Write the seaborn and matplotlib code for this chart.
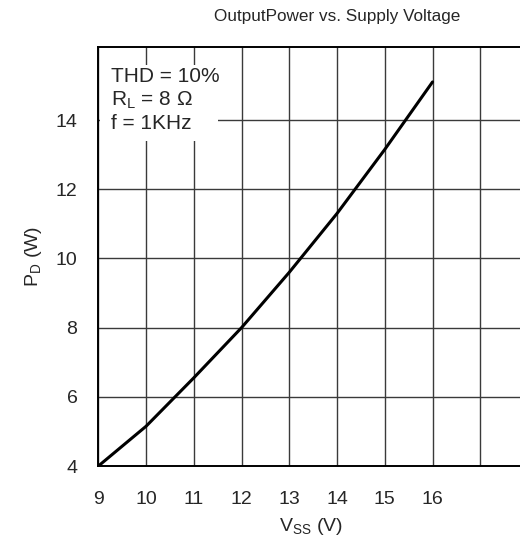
import matplotlib
matplotlib.use("Agg")
import matplotlib.pyplot as plt
from matplotlib.patches import Rectangle
import pandas as pd
import seaborn as sns

# values
vss = [9, 10, 11, 12, 13, 14, 15, 16]
power = [4.0, 5.15, 6.55, 8.0, 9.6, 11.3, 13.15, 15.1]
x_ticks = [9, 10, 11, 12, 13, 14, 15, 16]
y_ticks = [4, 6, 8, 10, 12, 14]
grid_x = [9, 10, 11, 12, 13, 14, 15, 16, 17, 18]
conditions = ["THD = 10%", "R$_\\mathregular{L}$ = 8 Ω", "f = 1KHz"]

sns.set_style("white")
plt.rcParams['font.family'] = ['Liberation Sans', 'DejaVu Sans']
plt.rcParams['mathtext.fontset'] = 'custom'
plt.rcParams['mathtext.rm'] = 'Liberation Sans'

df = pd.DataFrame({"vss": vss, "power": power})

fig = plt.figure(figsize=(5.2, 5.49), dpi=100)
ax = fig.add_axes([0.189, 0.151, 0.82, 0.764])

for gx in grid_x:
    ax.axvline(gx, color="#3a3a3a", lw=1.0, zorder=1)
for gy in y_ticks[1:]:
    ax.axhline(gy, color="#3a3a3a", lw=1.0, zorder=1)

sns.lineplot(data=df, x="vss", y="power", color="black", lw=2.2, ax=ax, zorder=3)

ax.set_xlim(9, 17.93)
ax.set_ylim(4, 16.12)
ax.set_xticks(x_ticks)
ax.set_yticks(y_ticks)
ax.tick_params(axis="both", length=0, labelsize=14)
ax.tick_params(axis="x", pad=18)
ax.tick_params(axis="y", pad=15)
for side in ["left", "bottom", "top"]:
    ax.spines[side].set_color("black")
    ax.spines[side].set_linewidth(1.4)
ax.spines["right"].set_visible(False)

ax.set_xlabel("V$_\\mathregular{SS}$ (V)", fontsize=14, labelpad=6)
ax.set_ylabel("P$_\\mathregular{D}$ (W)", fontsize=14, labelpad=8)

# white legend-like box with test conditions
ax.add_patch(Rectangle((0.004, 0.775), 0.277, 0.181, transform=ax.transAxes,
                       facecolor="white", edgecolor="none", zorder=4))
ax.text(0.030, 0.952, "\n".join(conditions), transform=ax.transAxes, fontsize=15,
        va="top", ha="left", linespacing=1.22, zorder=5)

fig.text(337 / 520, 1 - 17 / 549, "OutputPower vs. Supply Voltage", ha="center", va="center", fontsize=12.3)

fig.savefig("out.png", dpi=100)
